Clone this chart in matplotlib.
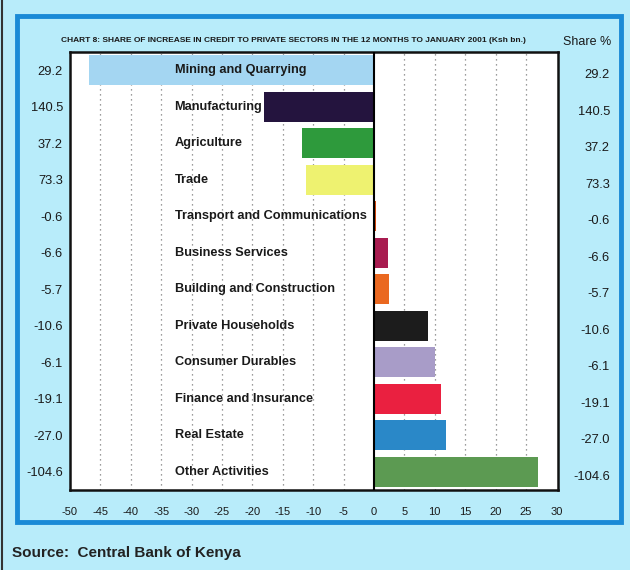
import matplotlib.pyplot as plt
from matplotlib.patches import Rectangle
from matplotlib.lines import Line2D
from matplotlib.transforms import blended_transform_factory

sectors = ["Mining and Quarrying", "Manufacturing", "Agriculture", "Trade",
           "Transport and Communications", "Business Services",
           "Building and Construction", "Private Households",
           "Consumer Durables", "Finance and Insurance", "Real Estate",
           "Other Activities"]
ksh_bn = ["29.2", "140.5", "37.2", "73.3", "-0.6", "-6.6", "-5.7", "-10.6",
          "-6.1", "-19.1", "-27.0", "-104.6"]
share = [-46.8, -18.1, -11.8, -11.2, 0.3, 2.3, 2.4, 8.9, 10.1, 11.0, 11.8, 26.9]
colors = ["#a4d6f2", "#24143e", "#2e9a3c", "#eef270", "#d8480e", "#a81c50",
          "#ea6820", "#1c1c1c", "#a89cc8", "#ea2040", "#2a88c8", "#5c9a52"]
xticks = list(range(-50, 31, 5))

bg = "#b8ecfa"
narrow = ["Liberation Sans Narrow", "Liberation Sans", "DejaVu Sans"]

fig = plt.figure(figsize=(6.3, 5.7), dpi=100, facecolor=bg)

# blue border round the whole panel, dark edge on the far left
fig.patches.append(Rectangle((17 / 630, 1 - 522 / 570), (621 - 17) / 630, (522 - 16) / 570,
                             transform=fig.transFigure, fill=False,
                             edgecolor="#1a8ad6", lw=3.5))
fig.lines.append(Line2D([2 / 630, 2 / 630], [0, 1], transform=fig.transFigure,
                        color="#333333", lw=1.5))

ax = fig.add_axes([0.111, 0.1404, 0.775, 0.7684])
ax.set_facecolor("white")
rows = range(len(sectors))

for x in xticks:
    if x not in (-50, 0, 30):
        ax.axvline(x, color="#7a7a7a", lw=0.9, ls=(0, (1, 3)), zorder=0)

ax.barh(rows, share, height=0.82, color=colors, zorder=2)
ax.axvline(0, color="black", lw=1.5, zorder=3)

for i, name in enumerate(sectors):
    ax.text(-32.8, i, name, ha="left", va="center", fontsize=9.2,
            fontweight="bold", family=narrow, color="#1a1a1a", zorder=4)

ax.set_xlim(-50, 30.3)
ax.set_ylim(11.5, -0.5)
ax.set_xticks(xticks)
ax.set_xticklabels([str(x) for x in xticks], family=narrow, fontsize=8)
ax.set_yticks(list(rows))
ax.set_yticklabels(ksh_bn, fontsize=9.3, family=narrow)
ax.tick_params(axis="both", length=0, colors="#1a1a1a")
ax.tick_params(axis="x", pad=12)
ax.tick_params(axis="y", pad=5)
for s in ax.spines.values():
    s.set_linewidth(1.8)
    s.set_color("#111111")

# share column on the right
tr = blended_transform_factory(fig.transFigure, ax.transData)
for i, v in enumerate(ksh_bn):
    ax.text(610 / 630, i + 0.14, v, transform=tr, ha="right", va="center",
            fontsize=9.3, family=narrow, color="#1a1a1a")

fig.text(293 / 630, 1 - 41 / 570,
         "CHART 8: SHARE OF INCREASE IN CREDIT TO PRIVATE SECTORS IN THE 12 MONTHS TO JANUARY 2001 (Ksh bn.)",
         ha="center", va="center", fontsize=6.0, fontweight="bold",
         family=narrow, color="#1a1a1a")
fig.text(611 / 630, 1 - 42 / 570, "Share %", ha="right", va="center",
         fontsize=9, family=narrow, color="#1a1a1a")
fig.text(12 / 630, 1 - 553 / 570, "Source:  Central Bank of Kenya",
         ha="left", va="center", fontsize=11, fontweight="bold",
         family=["Liberation Sans", "DejaVu Sans"], color="#222222")

fig.savefig("out.png", dpi=100, facecolor=bg)
